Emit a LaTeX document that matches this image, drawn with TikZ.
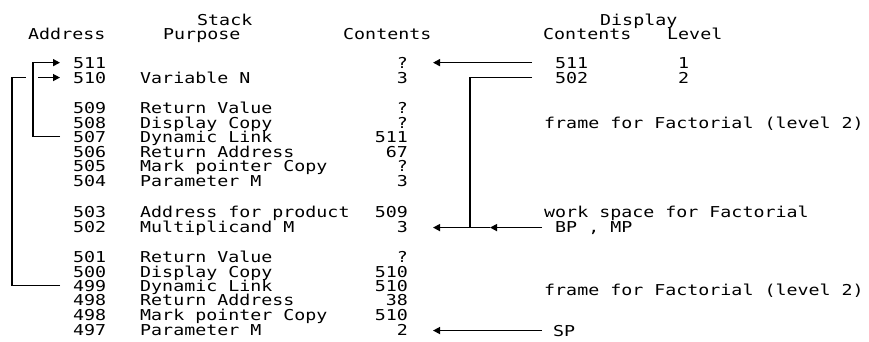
\documentclass[tikz,border=0pt]{standalone}
\usepackage{fontspec}
\newfontfamily\pxfam[FakeStretch=1.22]{DejaVu Sans Mono}
\usetikzlibrary{arrows.meta}
\begin{document}
\begin{tikzpicture}[x=1pt,y=-1pt,
  txt/.style={inner sep=0pt, font={\pxfam\fontsize{15pt}{15pt}\selectfont}},
  L/.style={txt, anchor=base west},
  R/.style={txt, anchor=base east},
  ln/.style={line width=1.4pt},
  arr/.style={ln, -{Triangle[length=7pt,width=7pt]}}]
\useasboundingbox[fill=white] (0,0) rectangle (869,341);
% headers
\node[L] (hstack) at (197,25) {Stack};
\node[L] (haddr) at (28,39) {Address};
\node[L] (hpurp) at (163,39) {Purpose};
\node[L] (hcont) at (343,39) {Contents};
\node[L] (hdisp) at (600,25) {Display};
\node[L] (hdcont) at (543,39) {Contents};
\node[L] (hlev) at (667,39) {Level};
% addresses
\node[L] (a511) at (73,68) {511};
\node[L] (a510) at (73,83) {510};
\node[L] (a509) at (73,113) {509};
\node[L] (a508) at (73,128) {508};
\node[L] (a507) at (73,142) {507};
\node[L] (a506) at (73,157) {506};
\node[L] (a505) at (73,171) {505};
\node[L] (a504) at (73,186) {504};
\node[L] (a503) at (73,217) {503};
\node[L] (a502) at (73,232) {502};
\node[L] (a501) at (73,262) {501};
\node[L] (a500) at (73,277) {500};
\node[L] (a499) at (73,291) {499};
\node[L] (a498a) at (73,305) {498};
\node[L] (a498b) at (73,320) {498};
\node[L] (a497) at (73,335) {497};
% purposes
\node[L] (p510) at (140,83) {Variable N};
\node[L] (p509) at (140,113) {Return Value};
\node[L] (p508) at (140,128) {Display Copy};
\node[L] (p507) at (140,142) {Dynamic Link};
\node[L] (p506) at (140,157) {Return Address};
\node[L] (p505) at (140,171) {Mark pointer Copy};
\node[L] (p504) at (140,186) {Parameter M};
\node[L] (p503) at (140,217) {Address for product};
\node[L] (p502) at (140,232) {Multiplicand M};
\node[L] (p501) at (140,262) {Return Value};
\node[L] (p500) at (140,277) {Display Copy};
\node[L] (p499) at (140,291) {Dynamic Link};
\node[L] (p498a) at (140,305) {Return Address};
\node[L] (p498b) at (140,320) {Mark pointer Copy};
\node[L] (p497) at (140,335) {Parameter M};
% contents
\node[R] (c511) at (408,68) {?};
\node[R] (c510) at (408,83) {3};
\node[R] (c509) at (408,113) {?};
\node[R] (c508) at (408,128) {?};
\node[R] (c507) at (408,142) {511};
\node[R] (c506) at (408,157) {67};
\node[R] (c505) at (408,171) {?};
\node[R] (c504) at (408,186) {3};
\node[R] (c503) at (408,217) {509};
\node[R] (c502) at (408,232) {3};
\node[R] (c501) at (408,262) {?};
\node[R] (c500) at (408,277) {510};
\node[R] (c499) at (408,291) {510};
\node[R] (c498a) at (408,305) {38};
\node[R] (c498b) at (408,320) {510};
\node[R] (c497) at (408,335) {2};
% display
\node[L] (d511) at (555,68) {511};
\node[L] (d502) at (555,83) {502};
\node[L] (l1) at (678,68) {1};
\node[L] (l2) at (678,83) {2};
% annotations
\node[L] (frame1) at (544,128) {frame for Factorial (level 2)};
\node[L] (work) at (544,217) {work space for Factorial};
\node[L] (bp) at (555,232) {BP , MP};
\node[L] (frame2) at (544,295) {frame for Factorial (level 2)};
\node[L] (sp) at (553,336) {SP};
% helper columns
\coordinate (tipx) at (433,0);
\coordinate (jx) at (470,0);
\coordinate (midx) at (490,0);
% right-side connectors
\draw[arr] ([xshift=-23pt]d511.west) -- (tipx |- d511.west);
\draw[ln] ([xshift=-23pt]d502.west) -| (jx |- bp.west);
\draw[arr] ([xshift=-13pt]bp.west) -- (midx |- bp.west);
\draw[arr] (midx |- bp.west) -- (tipx |- bp.west);
\draw[arr] ([xshift=-11pt]sp.west) -- (tipx |- sp.west);
% left-side dynamic links
\draw[arr] ([xshift=-13pt]a507.west) -| ([xshift=-40pt]a511.west) -- ([xshift=-13pt]a511.west);
\draw[ln] ([xshift=-13pt]a499.west) -| ([xshift=-61pt]a510.west) -- ([xshift=-47pt]a510.west);
\draw[arr] ([xshift=-35pt]a510.west) -- ([xshift=-13pt]a510.west);
\end{tikzpicture}
\end{document}
